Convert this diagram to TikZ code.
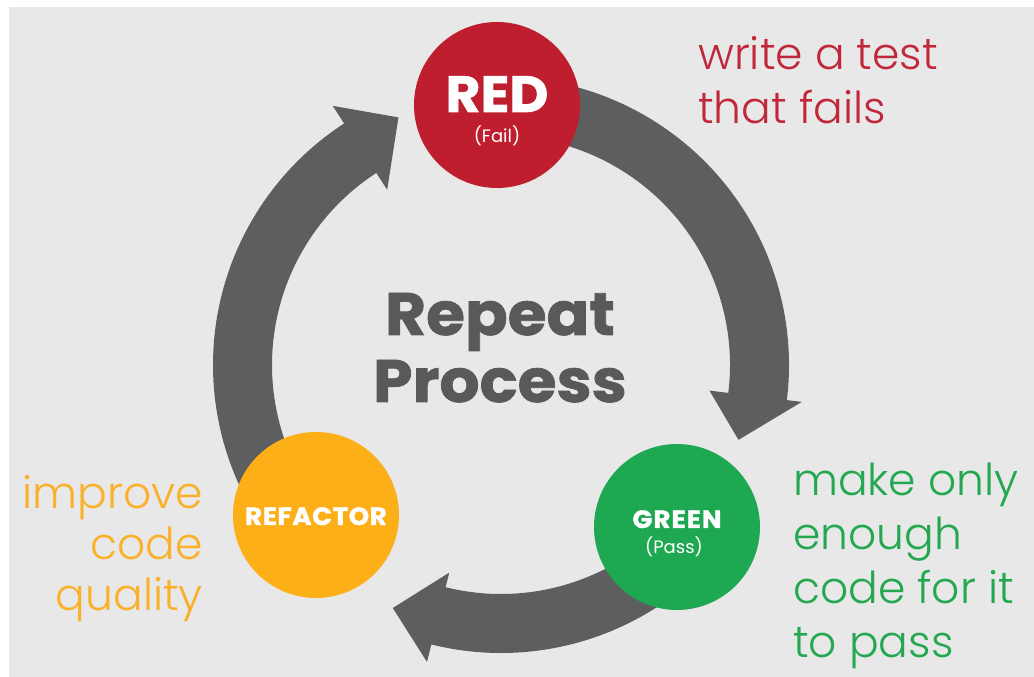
\documentclass[tikz,border=0pt]{standalone}
\usepackage{fontspec}
\setmainfont{Poppins}
\newfontfamily\heavyfont{Poppins}[FakeStretch=1.05,FakeBold=1.2]
\newfontfamily\lightfont{Poppins Light}
\usetikzlibrary{calc}
\definecolor{bgc}{HTML}{E8E8E8}
\definecolor{arrowc}{HTML}{5C5E60}
\definecolor{redc}{HTML}{BF1E2E}
\definecolor{greenc}{HTML}{1DA851}
\definecolor{orangec}{HTML}{FCAF17}
\definecolor{redt}{HTML}{C1273A}
\definecolor{greent}{HTML}{23A850}
\definecolor{oranget}{HTML}{FAB028}
\definecolor{titlec}{HTML}{58595B}
\tikzset{
  stage/.style={circle, minimum size=166pt, inner sep=0pt, draw=none},
  stagetitle/.style={inner sep=0pt, text=white, anchor=base},
  stagesub/.style={inner sep=0pt, text=white, font=\fontsize{18}{20}\selectfont},
  note/.style={inner sep=0pt, font=\lightfont\fontsize{44}{54}\selectfont},
  ringfill/.style={fill=arrowc}
}
% start angle, end angle, outer wing r, inner wing r, tip angle, tip r
\newcommand\ringarrow[6]{%
  \fill[ringfill] ($(C)+(#1:288pt)$) arc[start angle=#1, end angle=#2, radius=288pt]
    -- ($(C)+(#2:#3pt)$) -- ($(C)+(#5:#6pt)$) -- ($(C)+(#2:#4pt)$)
    -- ($(C)+(#2:229pt)$) arc[start angle=#2, end angle=#1, radius=229pt] -- cycle;}
\begin{document}
\begin{tikzpicture}[x=1pt,y=1pt]
\useasboundingbox (0,0) rectangle (1034,677);
\fill[white] (0,0) rectangle (1034,677);
\fill[bgc] (9,0) rectangle (1034,670);
\coordinate (C) at (501,312);
% cycle arrows
\ringarrow{92}{-7}{303}{210}{-17.5}{249}
\ringarrow{320}{256}{306}{214}{246}{266}
\ringarrow{215}{123}{309}{209}{112.5}{268}
% stage circles
\node[stage, fill=redc] (red) at (497,572) {};
\node[stage, fill=greenc] (green) at (677,150) {};
\node[stage, fill=orangec] (refactor) at (316,162) {};
% stage labels
\node[stagetitle, font=\heavyfont\bfseries\fontsize{51}{51}\selectfont] (redlbl) at ($(red)+(0,-7)$) {RED};
\node[stagesub] (redsub) at ($(red)+(0,-31)$) {(Fail)};
\node[stagetitle, font=\heavyfont\bfseries\fontsize{25}{25}\selectfont\addfontfeature{LetterSpace=4}] (greenlbl) at ($(green)+(0,-1)$) {GREEN};
\node[stagesub] (greensub) at ($(green)+(-3,-20)$) {(Pass)};
\node[stagetitle, font=\heavyfont\bfseries\fontsize{25}{25}\selectfont\addfontfeature{LetterSpace=2}] (reflbl) at ($(refactor)+(0,-10)$) {REFACTOR};
% centre title (base anchor = last line's baseline)
\node[inner sep=0pt, anchor=base, align=center, text=titlec, font=\heavyfont\bfseries\fontsize{60}{67}\selectfont] (title) at (500,275) {Repeat\\Process};
% notes (base anchor = last line's baseline)
\node[note, anchor=base west, align=left, text=redt] (failnote) at (698,553) {write a test\\that fails};
\node[note, anchor=base west, align=left, text=greent] (passnote) at (793,19) {make only\\enough\\code for it\\to pass};
\node[note, anchor=base east, align=right, text=oranget, font=\lightfont\fontsize{44}{51}\selectfont] (refnote) at (203,66) {improve\\code\\quality};
\end{tikzpicture}
\end{document}
